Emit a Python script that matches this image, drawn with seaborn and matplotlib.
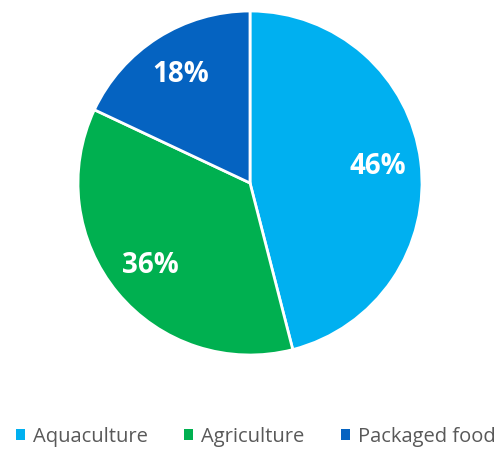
import matplotlib
matplotlib.use("Agg")
import matplotlib.pyplot as plt
import seaborn as sns
from matplotlib.patches import Patch

sns.set_theme(style="white")
plt.rcParams['font.family'] = ['Open Sans', 'DejaVu Sans']

categories = ["Aquaculture", "Agriculture", "Packaged food"]
values = [46, 36, 18]
colors = ["#00B0F0", "#00B050", "#0563C1"]

fig = plt.figure(figsize=(5.01, 4.5), dpi=100)
ax = fig.add_axes([78/501, 95/450, 344/501, 344/450])
wedges, texts, autotexts = ax.pie(
    values, colors=colors, startangle=90, counterclock=False,
    autopct=lambda p: f"{p:.0f}%", pctdistance=0.75,
    wedgeprops=dict(edgecolor="white", linewidth=2),
    textprops=dict(color="white", fontsize=20, fontweight="bold"))
ax.set_xlim(-1, 1)
ax.set_ylim(-1, 1)
ax.set_aspect("equal")
ax.axis("off")

handles = [Patch(facecolor=c, edgecolor="none") for c in colors]
fig.legend(handles, categories, loc="center", bbox_to_anchor=(256/501, 1 - 437/450),
           ncol=3, frameon=False, fontsize=14.5, labelcolor="#595959",
           handlelength=0.45, handleheight=0.45, handletextpad=0.4, columnspacing=1.8)

fig.savefig("out.png", dpi=100)
